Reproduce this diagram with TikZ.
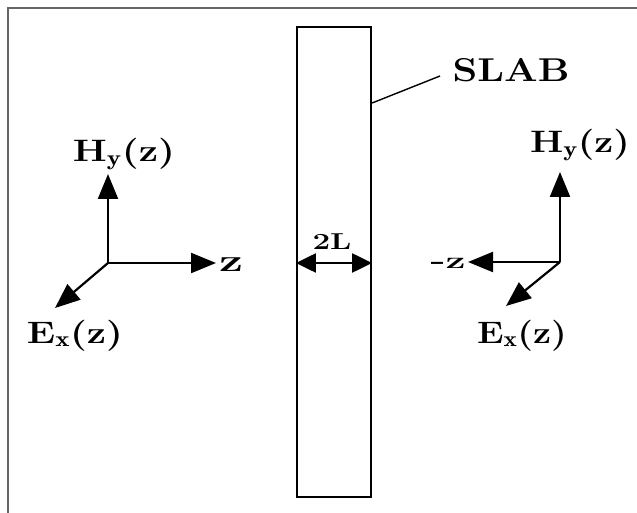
\documentclass[tikz,border=0pt]{standalone}
\usepackage{fontspec}
\usetikzlibrary{arrows.meta}
\newcommand{\wid}[2]{\resizebox{#1pt}{\height}{#2}}
\begin{document}
\begin{tikzpicture}[x=1pt,y=-1pt,
  frame/.style={draw=black!60,line width=1.2pt},
  slabline/.style={draw=black,line width=2.2pt},
  vec/.style={line width=2.2pt,-{Triangle[length=25pt,width=20pt]}},
  dbl/.style={line width=2.2pt,{Triangle[length=20pt,width=19pt]}-{Triangle[length=20pt,width=19pt]}},
  lab/.style={font=\fontsize{31}{34}\selectfont\bfseries,inner sep=0pt,anchor=base},
  big/.style={font=\fontsize{33}{36}\selectfont\bfseries,inner sep=0pt,anchor=base},
  small/.style={font=\fontsize{23}{26}\selectfont\bfseries,inner sep=0pt,anchor=base}]
\useasboundingbox (0,0) rectangle (637,513);
% partial frame
\draw[frame] (8,513) -- (8,8) -- (637,8);
% slab
\node[slabline,minimum width=74pt,minimum height=470pt,inner sep=0pt] (slab) at (334,262) {};
% SLAB label and leader
\node[big] (slabtxt) at (511,82) {\wid{117}{SLAB}};
\coordinate (lead) at (440,76);
\draw[line width=1.4pt] (lead) -- (slab.east |- 0,103);
% 2L dimension
\node[small] (twoL) at (332,250) {\wid{39}{2L}};
\draw[dbl] (slab.west |- 0,263) -- (slab.east |- 0,263);
% left axes
\coordinate (o1) at (108,263);
\coordinate (h1) at (108,174);
\coordinate (z1) at (216,263);
\coordinate (e1) at (55,308);
\draw[vec] (o1) -- (h1);
\draw[vec] (o1) -- (z1);
\draw[vec] (o1) -- (e1);
\node[lab] (H1) at (124,162) {\wid{102}{H$_{\mathbf{y}}$(z)}};
\node[lab] (zl) at (231,272) {\wid{24}{z}};
\node[lab] (E1) at (75,343) {\wid{96}{E$_{\mathbf{x}}$(z)}};
% right axes
\coordinate (o2) at (560,262);
\coordinate (h2) at (560,172);
\coordinate (z2) at (468,262);
\coordinate (e2) at (506,306);
\draw[vec] (o2) -- (h2);
\draw[vec] (o2) -- (z2);
\draw[vec] (o2) -- (e2);
\node[lab] (H2) at (580,153) {\wid{100}{H$_{\mathbf{y}}$(z)}};
\node[small] (zr) at (448,268) {\wid{35}{-z}};
\node[lab] (E2) at (522,343) {\wid{90}{E$_{\mathbf{x}}$(z)}};
\end{tikzpicture}
\end{document}
